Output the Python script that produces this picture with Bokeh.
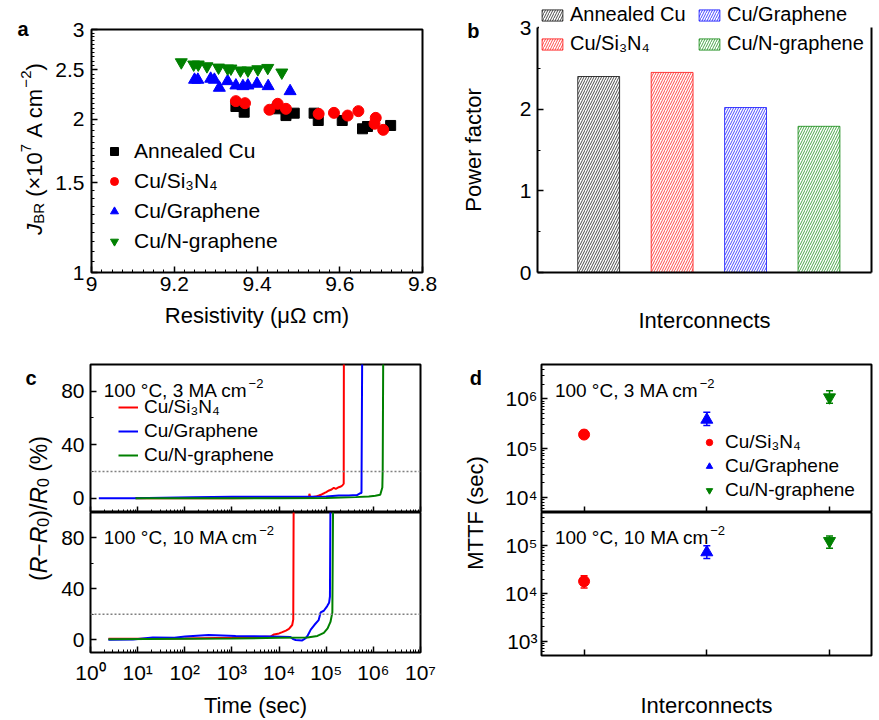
import math
import numpy as np
from bokeh.plotting import figure
from bokeh.layouts import row, column
from bokeh.models import (Range1d, FixedTicker, CustomJSTickFormatter, Legend, LegendItem,
                          Label, Span, Whisker, TeeHead, ColumnDataSource, LinearAxis)
from bokeh.embed import file_html
from bokeh.resources import INLINE

FONT = "Liberation Sans"
BLACK, RED, BLUE, GREEN = "#000000", "#ff0000", "#0000ff", "#008000"

# ---------------- panel a: breakdown current density vs resistivity ----------------
names = ["Annealed Cu", "Cu/Si\u2083N\u2084", "Cu/Graphene", "Cu/N-graphene"]
annealed_rho = [9.349, 9.369, 9.448, 9.470, 9.490, 9.538, 9.548, 9.606, 9.655, 9.667, 9.723]
annealed_j = [2.118, 2.064, 2.096, 2.033, 2.055, 2.055, 1.988, 1.988, 1.915, 1.935, 1.944]
si3n4_rho = [9.349, 9.371, 9.430, 9.450, 9.470, 9.549, 9.586, 9.619, 9.645, 9.687, 9.684, 9.705]
si3n4_j = [2.170, 2.150, 2.087, 2.144, 2.096, 2.049, 2.058, 2.033, 2.074, 2.012, 1.959, 1.906]
graphene_rho = [9.249, 9.257, 9.288, 9.297, 9.309, 9.329, 9.349, 9.366, 9.378, 9.400, 9.427, 9.480]
graphene_j = [2.390, 2.390, 2.401, 2.390, 2.305, 2.375, 2.329, 2.322, 2.329, 2.347, 2.322, 2.270]
ngraphene_rho = [9.217, 9.247, 9.258, 9.279, 9.307, 9.329, 9.337, 9.360, 9.378, 9.402, 9.426, 9.460]
ngraphene_j = [2.587, 2.561, 2.561, 2.541, 2.526, 2.515, 2.515, 2.493, 2.493, 2.507, 2.522, 2.470]
a_xticks = [9.0, 9.2, 9.4, 9.6, 9.8]
a_yticks = [1, 1.5, 2, 2.5, 3]

# ---------------- panel b: power factor ----------------
bar_pos = [1, 2, 3, 4]
power_factor = [2.40, 2.45, 2.02, 1.79]
b_yticks = [0, 1, 2, 3]
b_yminor = [0.5, 1.5, 2.5]

# ---------------- panel c: resistance change vs time ----------------
threshold = 20
t3_si3n4 = [9, 1.0e3, 3.0e4, 4.3e4, 4.4e4, 4.6e4, 6.0e4, 7.0e4, 8.0e4, 9.0e4, 1.0e5, 1.15e5,
            1.3e5, 1.45e5, 1.6e5, 1.85e5, 2.05e5, 2.2e5, 2.35e5, 2.37e5]
v3_si3n4 = [0, 0, 0.3, 0.5, 3.3, 0.5, 1.2, 2.0, 2.8, 3.7, 4.6, 5.8, 6.5, 7.8, 7.0, 8.2, 8.7,
            9.5, 10.8, 110]
t3_graphene = [1.5, 8, 150, 1.0e3, 1.0e4, 1.0e5, 1.85e5, 3.0e5, 4.5e5, 5.3e5, 5.6e5, 5.8e5]
v3_graphene = [0, 0, 0.7, 1.0, 1.0, 1.2, 2.0, 2.0, 2.3, 3.7, 3.8, 110]
t3_ngraphene = [9, 1.0e4, 1.0e5, 4.2e5, 8.0e5, 1.1e6, 1.4e6, 1.55e6, 1.58e6, 1.62e6]
v3_ngraphene = [0, 0, 0.2, 0.8, 1.2, 1.8, 2.5, 8.0, 22, 110]

t10_si3n4 = [2.4, 100, 1000, 6600, 7800, 1.0e4, 1.17e4, 1.4e4, 1.62e4, 1.9e4, 2.0e4, 2.04e4]
v10_si3n4 = [0.8, 1.0, 1.5, 2.5, 4.2, 5.0, 6.0, 7.2, 8.5, 11.6, 16, 110]
t10_graphene = [2.4, 8, 21, 60, 102, 320, 1200, 7200, 1.74e4, 2.0e4, 2.24e4, 3.1e4, 3.6e4, 4.0e4,
                4.7e4, 5.6e4, 6.9e4, 7.6e4, 8.9e4, 1.05e5, 1.15e5, 1.2e5, 1.23e5]
v10_graphene = [0, 0.3, 1.8, 1.5, 2.5, 3.7, 3.0, 2.5, 2.2, 0.5, -0.2, -0.5, 1.0, 3.0, 8.0, 11.6,
                15.4, 21.5, 22.8, 26.5, 29, 34, 110]
t10_ngraphene = [2.4, 100, 1000, 1.0e4, 4.0e4, 6.5e4, 8.9e4, 1.07e5, 1.23e5, 1.35e5, 1.4e5]
v10_ngraphene = [0.5, 0.8, 1.0, 1.5, 1.8, 3.0, 5.5, 9.0, 14, 21.5, 110]
c_yticks = [0, 40, 80]
c_yminor = [20, 60]
c_xticks = [1e0, 1e1, 1e2, 1e3, 1e4, 1e5, 1e6, 1e7]

# ---------------- panel d: MTTF ----------------
d_pos = [1, 2, 3]
mttf_3 = [1.9e5, 3.8e5, 1.08e6]
mttf_3_lo = [1.6e5, 2.9e5, 8.2e5]
mttf_3_hi = [2.3e5, 5.4e5, 1.47e6]
mttf_10 = [1.8e4, 7.3e4, 1.26e5]
mttf_10_lo = [1.3e4, 5.4e4, 8.9e4]
mttf_10_hi = [2.35e4, 1.0e5, 1.6e5]
d_top_ticks = [1e4, 1e5, 1e6]
d_bot_ticks = [1e3, 1e4, 1e5]

# condition annotations
cond_3 = "100 \u00b0C, 3 MA cm"
cond_10 = "100 \u00b0C, 10 MA cm"
cond_sup = "\u22122"

# ---------------- helpers ----------------
ADV = {' ': 278, '(': 333, ')': 333, '\u00d7': 584, '\u2212': 584, '/': 278, '%': 889,
       '\u00b0': 400, ',': 278, '.': 278, '-': 333, 'A': 667, 'B': 667, 'C': 722, 'J': 500,
       'M': 833, 'R': 722, 'c': 500, 'm': 833, 'e': 556, 's': 500}


def tw(s, size):
    return sum(ADV.get(ch, 556) for ch in s) * size / 1000.0


def no_align(p):
    if "frame_align" in p.properties():
        p.frame_align = False
    return p


def mk_label(fig, text, x, y, size, style="normal", angle=0.0, align="left",
             baseline="alphabetic", xo=0.0, yo=0.0):
    fig.add_layout(Label(x=x, y=y, x_offset=xo, y_offset=yo, text=text, angle=angle,
                         text_font=FONT, text_font_size=f"{size}px", text_font_style=style,
                         text_align=align, text_baseline=baseline, text_color="black"))


def rich(fig, pieces, x, y, angle=0.0, center=False):
    """Composite text in a blank figure whose data units equal pixels."""
    dx, dy = math.cos(angle), math.sin(angle)
    ux, uy = -math.sin(angle), math.cos(angle)
    if center:
        total = sum(tw(t, s) for t, s, _, _ in pieces)
        x -= dx * total / 2
        y -= dy * total / 2
    for txt, size, style, shift in pieces:
        lead = len(txt) - len(txt.lstrip(' '))
        x += dx * lead * 278 * size / 1000.0
        y += dy * lead * 278 * size / 1000.0
        core = txt.strip(' ')
        mk_label(fig, core, x + ux * shift, y + uy * shift, size, style, angle)
        w = tw(core, size)
        x += dx * w
        y += dy * w


def cond_label(fig, main, x, y):
    mk_label(fig, main, x, y, 19)
    mk_label(fig, cond_sup, x, y, 13, xo=tw(main, 19) + 1, yo=7)


def base_fig(width, height, left, right, top, bottom, **kw):
    p = figure(width=width, height=height, min_border_left=left, min_border_right=right,
               min_border_top=top, min_border_bottom=bottom, toolbar_location=None,
               output_backend="svg", title=None, **kw)
    no_align(p)
    for g in p.grid:
        g.visible = False
    p.outline_line_color = "black"
    p.outline_line_width = 2
    p.background_fill_color = "white"
    p.border_fill_color = "white"
    return p


def blank_fig(width, height):
    p = figure(width=width, height=height, toolbar_location=None, output_backend="svg",
               title=None, x_axis_location=None, y_axis_location=None, min_border=0,
               min_border_left=0, min_border_right=0, min_border_top=0, min_border_bottom=0,
               x_range=Range1d(0, width), y_range=Range1d(0, height))
    no_align(p)
    for g in p.grid:
        g.visible = False
    p.outline_line_color = None
    p.border_fill_color = "white"
    p.background_fill_color = "white"
    return p


def style_axis(ax, label_size="21px"):
    ax.axis_line_color = None
    ax.major_tick_in = 6
    ax.major_tick_out = 0
    ax.minor_tick_in = 3
    ax.minor_tick_out = 0
    ax.major_tick_line_color = "black"
    ax.major_tick_line_width = 1.5
    ax.minor_tick_line_color = "black"
    ax.minor_tick_line_width = 1
    ax.major_label_text_font = FONT
    ax.major_label_text_font_size = label_size
    ax.major_label_text_color = "black"
    ax.axis_label_text_font = FONT
    ax.axis_label_text_font_size = "22px"
    ax.axis_label_text_font_style = "normal"
    ax.axis_label_text_color = "black"


EMPTY_JS = CustomJSTickFormatter(code="return '';")


def hide_labels(ax):
    ax.formatter = EMPTY_JS
    ax.major_label_text_font_size = "1px"
    ax.major_label_standoff = 0


def log_minor(k0, k1):
    return [m * 10.0 ** k for k in range(k0, k1) for m in range(2, 10)]


SUP_JS = CustomJSTickFormatter(code="""
const sup = {"0":"\\u2070","1":"\\u00b9","2":"\\u00b2","3":"\\u00b3","4":"\\u2074",
             "5":"\\u2075","6":"\\u2076","7":"\\u2077","8":"\\u2078","9":"\\u2079","-":"\\u207b"};
const e = Math.round(Math.log10(tick));
return "10" + String(e).split("").map(c => sup[c]).join("");
""")
PLAIN_JS = CustomJSTickFormatter(code="return (Math.round(tick*100)/100).toString();")


def legend(items, loc, gw, gh, standoff, spacing, size, **kw):
    return Legend(items=items, location=loc, glyph_width=gw, glyph_height=gh,
                  label_standoff=standoff, spacing=spacing, margin=0, border_line_color=None,
                  label_text_font=FONT, label_text_font_size=size, label_text_color="black",
                  **kw)


# ================= panel a =================
a_lab = blank_fig(52, 348)
rich(a_lab, [("J", 22, "italic", 0), ("BR", 15, "normal", -4), (" (\u00d710", 22, "normal", 0),
             ("7", 15, "normal", 9), (" A cm", 22, "normal", 0), ("\u22122", 15, "normal", 9),
             (")", 22, "normal", 0)], 34, 199.5, angle=math.pi / 2, center=True)
mk_label(a_lab, "a", 17, 320, 20, "bold")

pa = base_fig(388, 348, 38, 18, 29, 76, x_range=Range1d(9, 9.8), y_range=Range1d(1, 3),
              y_axis_type="log")
for ax in pa.axis:
    style_axis(ax)
pa.xaxis.ticker = FixedTicker(ticks=a_xticks,
                              minor_ticks=[round(v, 3) for v in np.arange(9.0, 9.8001, 0.025)])
pa.xaxis.formatter = PLAIN_JS
pa.xaxis.major_label_standoff = 4
pa.xaxis.axis_label = "Resistivity (\u03bc\u03a9 cm)"
pa.xaxis.axis_label_standoff = 9
pa.yaxis.ticker = FixedTicker(ticks=a_yticks,
                              minor_ticks=[round(v, 2) for v in np.arange(1.0, 3.0001, 0.05)])
pa.yaxis.formatter = PLAIN_JS
pa.yaxis.major_label_standoff = 7

ra = [
    pa.scatter(annealed_rho, annealed_j, marker="square", size=10, color=BLACK),
    pa.scatter(si3n4_rho, si3n4_j, marker="circle", size=11, color=RED),
    pa.scatter(graphene_rho, graphene_j, marker="triangle", size=12, color=BLUE),
    pa.scatter(ngraphene_rho, ngraphene_j, marker="inverted_triangle", size=12, color=GREEN),
]
pa.add_layout(legend([LegendItem(label=n, renderers=[r]) for n, r in zip(names, ra)],
                     (13, 19.5), 20, 20, 10, 6, "21px", padding=0, background_fill_alpha=0))

# ================= panel b =================
b_lab = blank_fig(60, 348)
mk_label(b_lab, "b", 26.7, 318, 20, "bold")
mk_label(b_lab, "Power factor", 33.4, 198.5, 22, angle=math.pi / 2, align="center",
         baseline="middle")

# frame reaches the top of the canvas so the legend (which overlaps the frame top) is not clipped;
# the y range is extended so that 3 sits where the reference's top spine is
b_ytop = 3 * 272 / 245
pb = base_fig(379, 348, 37, 8, 0, 76, x_range=Range1d(0.167, 4.715), y_range=Range1d(0, b_ytop))
pb.outline_line_color = None
for ax in pb.axis:
    style_axis(ax)
    ax.axis_line_color = "black"
    ax.axis_line_width = 2
pb.yaxis.ticker = FixedTicker(ticks=b_yticks, minor_ticks=b_yminor)
pb.yaxis.bounds = (0, 3)
pb.yaxis.major_label_standoff = 6
pb.xaxis.ticker = FixedTicker(ticks=bar_pos)
pb.xaxis.major_tick_in = 0
hide_labels(pb.xaxis[0])
pb.xaxis.axis_label = "Interconnects"
pb.xaxis.axis_label_standoff = 35
rax = LinearAxis(ticker=FixedTicker(ticks=b_yticks), bounds=(0, 3))
style_axis(rax)
hide_labels(rax)
rax.major_tick_in = 0
rax.minor_tick_in = 0
rax.axis_line_color = "black"
rax.axis_line_width = 2
pb.add_layout(rax, "right")

bar_colors = [BLACK, RED, BLUE, GREEN]
rb = []
for i in range(4):
    rb.append(pb.vbar(x=[bar_pos[i]], top=[power_factor[i]], width=0.57, fill_color=None,
                      line_color=bar_colors[i], line_alpha=0.75, line_width=1,
                      hatch_pattern="/", hatch_color=bar_colors[i], hatch_scale=5,
                      hatch_weight=1, hatch_alpha=0.7))
pb.add_layout(legend([LegendItem(label=n, renderers=[r]) for n, r in zip(names, rb)],
                     (2, 217), 26, 14, 5, 6, "20px", ncols=2, padding=5, label_width=120,
                     background_fill_color="white", background_fill_alpha=1))

# ================= panel c =================
c_lab = blank_fig(58, 372)
rich(c_lab, [("(", 23, "normal", 0), ("R", 23, "italic", 0), ("\u2212", 23, "normal", 0),
             ("R", 23, "italic", 0), ("0", 16, "normal", -4), (")/", 23, "normal", 0),
             ("R", 23, "italic", 0), ("0", 16, "normal", -4), (" (%)", 23, "normal", 0)],
     38, 212, angle=math.pi / 2, center=True)
mk_label(c_lab, "c", 25, 342.7, 20, "bold")

c_xr = Range1d(1, 1e7)
c_xminor = log_minor(0, 7)
pc1 = base_fig(382, 164, 32, 20, 16, 0, x_range=c_xr, y_range=Range1d(-10.7, 100),
               x_axis_type="log")
pc2 = base_fig(382, 208, 32, 20, 0, 61, x_range=c_xr, y_range=Range1d(-10, 100),
               x_axis_type="log")
for p in (pc1, pc2):
    for ax in p.axis:
        style_axis(ax)
    p.xaxis.ticker = FixedTicker(ticks=c_xticks, minor_ticks=c_xminor)
    p.yaxis.ticker = FixedTicker(ticks=c_yticks, minor_ticks=c_yminor)
    p.yaxis.major_label_standoff = 6
    p.add_layout(Span(location=threshold, dimension="width", line_color="#808080",
                      line_dash="2 2", line_width=1.5))
hide_labels(pc1.xaxis[0])
pc2.xaxis.formatter = SUP_JS
pc2.xaxis.major_label_standoff = 8
pc2.xaxis.axis_label = "Time (sec)"
pc2.xaxis.axis_label_standoff = 6

rc = [
    pc1.line(t3_si3n4, v3_si3n4, line_color=RED, line_width=2),
    pc1.line(t3_graphene, v3_graphene, line_color=BLUE, line_width=2),
    pc1.line(t3_ngraphene, v3_ngraphene, line_color=GREEN, line_width=2),
]
pc2.line(t10_si3n4, v10_si3n4, line_color=RED, line_width=2)
pc2.line(t10_graphene, v10_graphene, line_color=BLUE, line_width=2)
pc2.line(t10_ngraphene, v10_ngraphene, line_color=GREEN, line_width=2)
pc1.add_layout(legend([LegendItem(label=n, renderers=[r]) for n, r in zip(names[1:], rc)],
                      (28, 46.4), 20, 20, 6, 2, "19px", padding=0, background_fill_alpha=0))
cond_label(pc1, cond_3, 1.915, 80.5)
cond_label(pc2, cond_10, 1.915, 80.3)

# ================= panel d =================
d_lab = blank_fig(56, 372)
mk_label(d_lab, "MTTF (sec)", 35, 207.5, 22, angle=math.pi / 2, align="center",
         baseline="middle")
mk_label(d_lab, "d", 29.3, 342.7, 20, "bold")

d_xr = Range1d(0.653, 3.342)
pd1 = base_fig(383, 164, 45, 8, 16, 0, x_range=d_xr, y_range=Range1d(5e3, 5e6),
               y_axis_type="log")
pd2 = base_fig(383, 208, 45, 8, 0, 60, x_range=d_xr, y_range=Range1d(5e2, 5e5),
               y_axis_type="log")
for p, ticks, (k0, k1) in ((pd1, d_top_ticks, (3, 7)), (pd2, d_bot_ticks, (2, 6))):
    for ax in p.axis:
        style_axis(ax)
    p.xaxis.ticker = FixedTicker(ticks=d_pos)
    hide_labels(p.xaxis[0])
    p.yaxis.ticker = FixedTicker(ticks=ticks, minor_ticks=log_minor(k0, k1))
    p.yaxis.formatter = SUP_JS
    p.yaxis.major_label_standoff = 4
pd2.xaxis.axis_label = "Interconnects"
pd2.xaxis.axis_label_standoff = 37

markers = ["circle", "triangle", "inverted_triangle"]
msizes = [11, 12, 12]
dcolors = [RED, BLUE, GREEN]
rd = []
for p, vals, lo, hi in ((pd1, mttf_3, mttf_3_lo, mttf_3_hi), (pd2, mttf_10, mttf_10_lo, mttf_10_hi)):
    for i in range(3):
        src = ColumnDataSource(dict(x=[d_pos[i]], y=[vals[i]], lo=[lo[i]], hi=[hi[i]]))
        p.add_layout(Whisker(source=src, base="x", upper="hi", lower="lo",
                             line_color=dcolors[i], line_width=1.5,
                             upper_head=TeeHead(size=7, line_color=dcolors[i], line_width=1.5),
                             lower_head=TeeHead(size=7, line_color=dcolors[i], line_width=1.5)))
        r = p.scatter("x", "y", source=src, marker=markers[i], size=msizes[i], color=dcolors[i])
        if p is pd1:
            rd.append(r)
pd1.add_layout(legend([LegendItem(label=n, renderers=[r]) for n, r in zip(names[1:], rd)],
                      (160, 10.7), 16, 20, 8, 2, "19px", padding=0, background_fill_alpha=0))
cond_label(pd1, cond_3, 0.762, 1.52e6)
cond_label(pd2, cond_10, 0.762, 1.48e5)

# ================= layout =================
top_row = row(a_lab, pa, b_lab, pb, spacing=0)
bottom_row = row(c_lab, column(pc1, pc2, spacing=0), d_lab, column(pd1, pd2, spacing=0),
                 spacing=0)
layout = column(top_row, bottom_row, spacing=0)

with open("out.html", "w", encoding="utf-8") as f:
    f.write(file_html(layout, INLINE, title="Interconnect reliability"))
